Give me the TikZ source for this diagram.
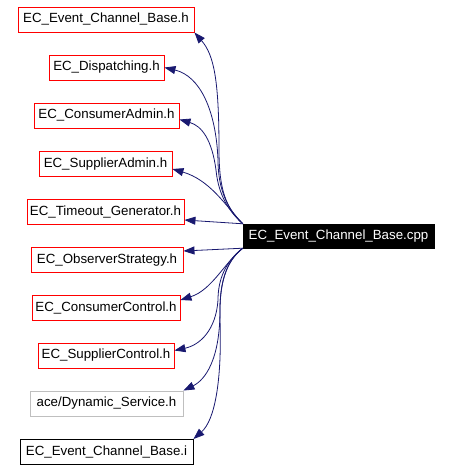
\documentclass[tikz,border=0pt]{standalone}
\usepackage{fontspec}
\setmainfont{Liberation Sans}
\usetikzlibrary{arrows.meta}
\definecolor{edgeblue}{HTML}{191970}
\definecolor{boxred}{HTML}{FF0000}
\definecolor{boxgray}{HTML}{BFBFBF}
\tikzset{
  file/.style={draw=boxred, line width=0.9pt, inner sep=0pt, minimum height=25pt, font=\fontsize{13.3}{16}\selectfont, text=black},
  extfile/.style={file, draw=boxgray},
  incfile/.style={file, draw=black},
  mainfile/.style={fill=black, draw=black, inner sep=0pt, minimum height=24pt, minimum width=191pt, font=\fontsize{13.3}{16}\selectfont, text=white},
  dep/.style={draw=edgeblue, line width=0.8pt, -{Triangle[length=11pt,width=8pt]}}
}
\begin{document}
\begin{tikzpicture}[x=1pt,y=-1pt]
\useasboundingbox (0,0) rectangle (451,470);
\node[mainfile] (m) at (338.5,236) {EC\_Event\_Channel\_Base.cpp};
\node[file, minimum width=176pt] (b1) at (106,19.5) {EC\_Event\_Channel\_Base.h};
\node[file, minimum width=115pt] (b2) at (106.5,67.5) {EC\_Dispatching.h};
\node[file, minimum width=145pt] (b3) at (106.5,115.5) {EC\_ConsumerAdmin.h};
\node[file, minimum width=133pt] (b4) at (105.5,164) {EC\_SupplierAdmin.h};
\node[file, minimum width=157pt] (b5) at (105.5,212) {EC\_Timeout\_Generator.h};
\node[file, minimum width=152pt] (b6) at (107,260) {EC\_ObserverStrategy.h};
\node[file, minimum width=148pt] (b7) at (106,308) {EC\_ConsumerControl.h};
\node[file, minimum width=136pt] (b8) at (106,355.5) {EC\_SupplierControl.h};
\node[extfile, minimum width=153pt] (b9) at (106.5,403.5) {ace/Dynamic\_Service.h};
\node[incfile, minimum width=173pt] (b10) at (106.5,452) {EC\_Event\_Channel\_Base.i};

\draw[dep] (m.north west) .. controls (226,208) and (219,190) .. (219,150) .. controls (219,80) and (214,55) .. (b1.south east);
\draw[dep] (m.north west) .. controls (228,210) and (218,190) .. (218,160) .. controls (216,110) and (200,76) .. (b2.east);
\draw[dep] (m.north west) .. controls (225,208) and (218,190) .. (216,170) .. controls (212,140) and (202,126) .. ([yshift=-4pt]b3.east);
\draw[dep] (m.north west) .. controls (225,205) and (210,180) .. ([yshift=-5pt]b4.east);
\draw[dep] (m.north west) -- ([yshift=-8pt]b5.east);
\draw[dep] (m.south west) -- ([yshift=9pt]b6.east);
\draw[dep] (m.south west) .. controls (225,262) and (212,290) .. ([yshift=8pt]b7.east);
\draw[dep] (m.south west) .. controls (225,262) and (218,280) .. (218,300) .. controls (216,330) and (200,345) .. ([yshift=5pt]b8.east);
\draw[dep] (m.south west) .. controls (225,262) and (220,285) .. (220,310) .. controls (220,360) and (205,380) .. (b9.north east);
\draw[dep] (m.south west) .. controls (225,262) and (219,285) .. (220,320) .. controls (222,380) and (215,420) .. (b10.north east);
\end{tikzpicture}
\end{document}
